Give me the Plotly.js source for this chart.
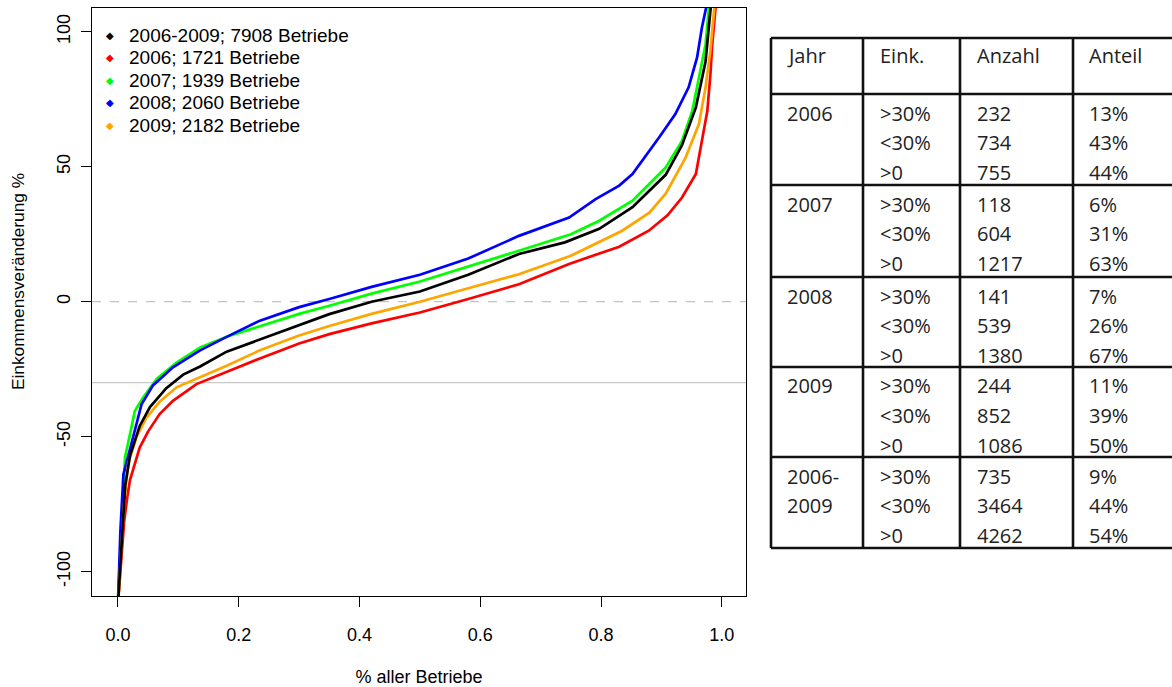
<!DOCTYPE html>
<html><head><meta charset="utf-8">
<script src="https://cdn.plot.ly/plotly-3.0.1.min.js"></script>
<style>html,body{margin:0;padding:0;background:#fff}#chart{width:1172px;height:687px}</style>
</head><body><div id="chart"></div>
<script>
// ---------- data ----------
const seriesNames = ['2006-2009; 7908 Betriebe', '2006; 1721 Betriebe', '2007; 1939 Betriebe', '2008; 2060 Betriebe', '2009; 2182 Betriebe'];

const fracAll = [0, 0.003, 0.008, 0.012, 0.02, 0.036, 0.053, 0.08, 0.108, 0.136, 0.18, 0.235, 0.3, 0.35, 0.42, 0.5, 0.58, 0.664, 0.74, 0.797, 0.852, 0.907, 0.934, 0.957, 0.973, 0.982];
const valAll  = [-112, -100, -80, -68, -57, -46, -39, -32, -27, -24, -18.5, -14, -8.5, -4.6, 0, 3.8, 10, 17.7, 22, 27, 35, 47, 58, 72, 89, 110];

const frac2006 = [0, 0.005, 0.01, 0.015, 0.02, 0.036, 0.05, 0.069, 0.091, 0.13, 0.18, 0.235, 0.3, 0.35, 0.42, 0.5, 0.58, 0.664, 0.747, 0.83, 0.879, 0.91, 0.934, 0.957, 0.967, 0.976, 0.981, 0.984, 0.99];
const val2006  = [-112, -95, -82, -73, -66, -54, -48, -41.6, -36.7, -30.5, -26, -21, -15.5, -12, -8, -4, 1, 6.5, 14, 20.4, 26.3, 32, 38.6, 47.3, 59.6, 70.7, 84, 95, 110];

const frac2007 = [0, 0.004, 0.008, 0.0116, 0.02, 0.028, 0.042, 0.064, 0.097, 0.136, 0.18, 0.235, 0.3, 0.35, 0.42, 0.5, 0.58, 0.664, 0.75, 0.797, 0.852, 0.907, 0.934, 0.951, 0.962, 0.973, 0.979];
const val2007  = [-110, -90, -70, -57.7, -49, -40.4, -35.4, -28.6, -22.5, -16.9, -13, -9, -4.5, -1.5, 3, 7.5, 13, 18.9, 25, 30, 37.4, 49.7, 59.6, 70.7, 83, 95.4, 110];

const frac2008 = [0, 0.004, 0.009, 0.02, 0.031, 0.039, 0.058, 0.091, 0.136, 0.18, 0.235, 0.3, 0.35, 0.42, 0.5, 0.58, 0.664, 0.747, 0.791, 0.83, 0.852, 0.896, 0.923, 0.945, 0.959, 0.967, 0.975];
const val2008  = [-112, -85, -64, -54, -45, -38, -31, -24.3, -18, -13, -7, -2, 1, 5.5, 10, 16, 24.4, 31.2, 38, 43, 47.3, 60.8, 69.5, 79.4, 90.5, 101.6, 110];

const frac2009 = [0, 0.005, 0.01, 0.017, 0.031, 0.047, 0.069, 0.097, 0.136, 0.18, 0.235, 0.3, 0.35, 0.42, 0.5, 0.58, 0.664, 0.75, 0.835, 0.88, 0.907, 0.94, 0.962, 0.973, 0.981, 0.988];
const val2009  = [-112, -92, -75, -60, -50, -43, -37, -31.7, -28, -23.7, -18, -12.5, -9, -4.5, 0, 5, 10.2, 17, 26.3, 33, 40, 53.4, 65.8, 79.4, 93, 110];

const refLines = [0, -30];
const xTicks = [0, 0.2, 0.4, 0.6, 0.8, 1.0];
const yTicks = [-100, -50, 0, 50, 100];
const xTitle = '% aller Betriebe';
const yTitle = 'Einkommensveränderung %';

// table
const tableHeader = ['Jahr', 'Eink.', 'Anzahl', 'Anteil'];
const tableYears = [['2006'], ['2007'], ['2008'], ['2009'], ['2006-', '2009']];
const einkClasses = ['>30%', '<30%', '>0'];
const anzahl = [[232, 734, 755], [118, 604, 1217], [141, 539, 1380], [244, 852, 1086], [735, 3464, 4262]];
const anteil = [['13%', '43%', '44%'], ['6%', '31%', '63%'], ['7%', '26%', '67%'], ['11%', '39%', '50%'], ['9%', '44%', '54%']];

// ---------- style / geometry ----------
const colors = ['#000000', '#ff0000', '#00ff00', '#0000ff', '#ffa500'];
const W = 1172, H = 687;
const PL = 92, PR = 746, PT = 8, PB = 596;
const X = px => (px - PL) / (PR - PL);
const Y = py => (PB - py) / (PB - PT);
const esc = s => String(s).replace(/&/g, '&amp;').replace(/</g, '&lt;').replace(/>/g, '&gt;');

const xs = [fracAll, frac2006, frac2007, frac2008, frac2009];
const ys = [valAll, val2006, val2007, val2008, val2009];

const traces = xs.map((x, i) => ({
  type: 'scatter', mode: 'lines', x: x, y: ys[i], name: seriesNames[i],
  line: {color: colors[i], width: 2.7}, showlegend: false, hoverinfo: 'skip'
}));
const order = [1, 2, 3, 4, 0];
const data = order.map(i => traces[i]);

const shapes = [];
refLines.forEach((v, i) => shapes.push({
  type: 'line', xref: 'paper', yref: 'y', x0: 0, x1: 1, y0: v, y1: v, layer: 'below',
  line: {color: i === 0 ? '#b4b4b4' : '#c8c8c8', width: i === 0 ? 1 : 1.3, dash: i === 0 ? 'dash' : 'solid'}
}));

// table grid
const tblLeft = 771, tblRight = 1180, tblTop = 38, tblBottom = 548;
const colX = [771, 863, 960, 1073];
const rowLines = [38, 94, 185, 277, 367, 457, 548];
const gridLine = {color: '#111111', width: 2.6};
colX.forEach(cx => shapes.push({type: 'line', xref: 'paper', yref: 'paper',
  x0: X(cx), x1: X(cx), y0: Y(tblTop), y1: Y(tblBottom), line: gridLine}));
rowLines.forEach(ry => shapes.push({type: 'line', xref: 'paper', yref: 'paper',
  x0: X(tblLeft), x1: X(tblRight), y0: Y(ry), y1: Y(ry), line: gridLine}));

const annotations = [];
const tFont = {family: 'Open Sans, Lato, sans-serif', size: 20, color: '#222222'};
const textX = [785, 878, 975, 1087];
tableHeader.forEach((h, c) => annotations.push({xref: 'paper', yref: 'paper', x: X(textX[c]), y: Y(55),
  xanchor: 'left', yanchor: 'middle', text: esc(h), showarrow: false, font: tFont}));
const groupTop = rowLines.slice(1, 6);
tableYears.forEach((yrs, g) => {
  for (let r = 0; r < 3; r++) {
    const yy = groupTop[g] + 19 + r * 29.7;
    if (yrs[r]) annotations.push({xref: 'paper', yref: 'paper', x: X(textX[0]), y: Y(yy), xanchor: 'left', yanchor: 'middle', text: esc(yrs[r]), showarrow: false, font: tFont});
    annotations.push({xref: 'paper', yref: 'paper', x: X(textX[1]), y: Y(yy), xanchor: 'left', yanchor: 'middle', text: esc(einkClasses[r]), showarrow: false, font: tFont});
    annotations.push({xref: 'paper', yref: 'paper', x: X(textX[2]), y: Y(yy), xanchor: 'left', yanchor: 'middle', text: esc(anzahl[g][r]), showarrow: false, font: tFont});
    annotations.push({xref: 'paper', yref: 'paper', x: X(textX[3]), y: Y(yy), xanchor: 'left', yanchor: 'middle', text: esc(anteil[g][r]), showarrow: false, font: tFont});
  }
});

// legend (inside plot, top-left)
const legFont = {family: 'Liberation Sans, Arial, sans-serif', size: 19, color: '#000000'};
seriesNames.forEach((n, i) => {
  const yy = 35 + i * 22.6;
  annotations.push({xref: 'paper', yref: 'paper', x: X(110), y: Y(yy), xanchor: 'center', yanchor: 'middle',
    text: '\u25C6', showarrow: false, font: {family: 'DejaVu Sans', size: 10, color: colors[i]}});
  annotations.push({xref: 'paper', yref: 'paper', x: X(127), y: Y(yy), xanchor: 'left', yanchor: 'middle',
    text: esc(n), showarrow: false, font: legFont});
});

// y axis title (placed like the R label)
annotations.push({xref: 'paper', yref: 'paper', x: X(18), y: Y(282), xanchor: 'center', yanchor: 'middle',
  textangle: -90, text: esc(yTitle), showarrow: false,
  font: {family: 'Liberation Sans, Arial, sans-serif', size: 17.3, color: '#000'}});

const tickFont = {family: 'Liberation Sans Narrow, Arial Narrow, Liberation Sans, sans-serif', size: 18, color: '#000000'};
const layout = {
  width: W, height: H,
  margin: {l: PL, r: W - PR, t: PT, b: H - PB},
  paper_bgcolor: '#ffffff', plot_bgcolor: '#ffffff',
  showlegend: false,
  font: {family: 'Liberation Sans, Arial, sans-serif', color: '#000000'},
  xaxis: {
    range: [-0.043, 1.04], tickvals: xTicks, ticktext: xTicks.map(v => v.toFixed(1)),
    ticks: 'outside', ticklen: 10, tickwidth: 1, tickcolor: '#000', ticklabelstandoff: 12,
    showline: true, mirror: true, linecolor: '#000', linewidth: 1,
    showgrid: false, zeroline: false, tickfont: tickFont,
    title: {text: esc(xTitle), font: {family: tickFont.family, size: 18, color: '#000'}, standoff: 26}
  },
  yaxis: {
    range: [-109, 108.8], tickvals: yTicks, ticktext: yTicks.map(v => String(v)), tickangle: -90,
    ticks: 'outside', ticklen: 10, tickwidth: 1, tickcolor: '#000', ticklabelstandoff: 4,
    showline: true, mirror: true, linecolor: '#000', linewidth: 1,
    showgrid: false, zeroline: false, tickfont: tickFont
  },
  shapes: shapes,
  annotations: annotations
};

Plotly.newPlot('chart', data, layout, {displayModeBar: false, staticPlot: true});
</script></body></html>
